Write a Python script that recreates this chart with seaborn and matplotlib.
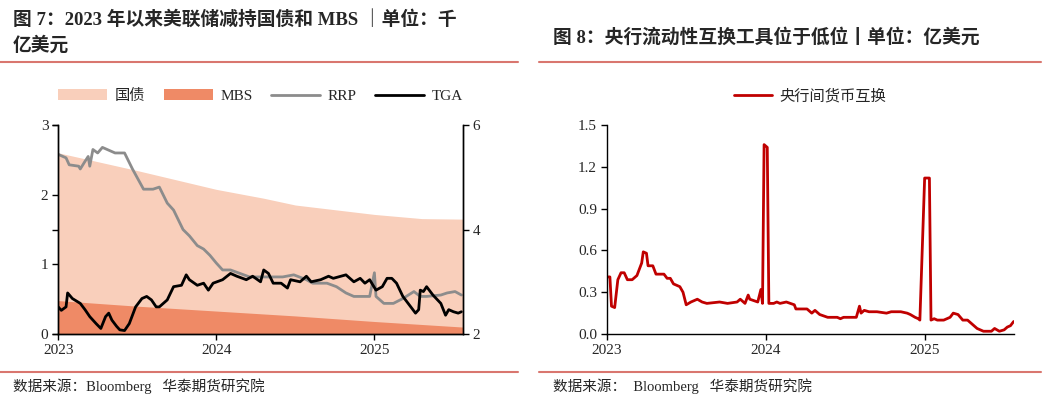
import matplotlib
matplotlib.use("Agg")
import matplotlib.pyplot as plt
import seaborn as sns
import numpy as np
import pandas as pd

sns.set_theme(style="white")
FONT = ['Liberation Serif', 'Noto Sans CJK SC', 'DejaVu Sans']
plt.rcParams['font.family'] = FONT

# Left chart (years since 2023)
tsy_x = [0, 0.5, 1.0, 1.3, 1.5, 2.0, 2.3, 2.56]
tsy_y = [5.47, 5.13, 4.77, 4.60, 4.47, 4.29, 4.21, 4.20]   # right axis units
mbs_x = [0, 0.5, 1.0, 1.5, 2.0, 2.56]
mbs_y = [0.48, 0.40, 0.33, 0.26, 0.18, 0.10]
rrp_x = [0,.05,.07,.13,.14,.17,.19,.20,.22,.25,.28,.33,.36,.42,.47,.54,.60,.64,.69,.73,.79,.83,.88,.92,.96,1.00,1.04,1.09,1.15,1.21,1.32,1.42,1.49,1.57,1.61,1.70,1.76,1.82,1.87,1.93,1.97,2.00,2.01,2.06,2.12,2.18,2.25,2.29,2.33,2.42,2.46,2.51,2.55]
rrp_y = [2.58,2.53,2.43,2.41,2.37,2.48,2.55,2.41,2.65,2.60,2.68,2.63,2.60,2.60,2.37,2.08,2.08,2.11,1.88,1.78,1.50,1.41,1.27,1.22,1.13,1.02,.92,.92,.87,.82,.82,.82,.85,.78,.73,.73,.68,.59,.54,.54,.54,.88,.54,.44,.44,.51,.61,.54,.54,.56,.59,.61,.56]
tga_x = [0,.02,.05,.06,.09,.14,.17,.20,.24,.27,.30,.32,.34,.37,.39,.42,.45,.49,.53,.56,.59,.62,.64,.69,.73,.78,.81,.83,.88,.92,.95,.98,1.04,1.09,1.13,1.19,1.23,1.28,1.30,1.33,1.36,1.41,1.45,1.47,1.53,1.57,1.60,1.66,1.71,1.74,1.82,1.87,1.91,1.94,1.97,2.01,2.05,2.08,2.11,2.14,2.18,2.23,2.26,2.28,2.29,2.31,2.33,2.37,2.42,2.45,2.47,2.50,2.53,2.55]
tga_y = [.39,.34,.39,.59,.51,.44,.35,.25,.15,.08,.25,.30,.20,.11,.06,.05,.15,.39,.51,.54,.49,.39,.39,.49,.68,.70,.85,.78,.70,.73,.63,.73,.78,.87,.83,.78,.83,.75,.92,.87,.73,.73,.66,.78,.75,.83,.75,.78,.83,.80,.85,.75,.80,.73,.78,.63,.68,.80,.80,.73,.54,.39,.30,.35,.63,.61,.68,.56,.44,.27,.35,.32,.30,.32]

# Right chart
swap_x = [0,.02,.03,.05,.07,.09,.11,.13,.16,.19,.22,.23,.25,.26,.29,.31,.36,.38,.40,.42,.44,.46,.48,.50,.53,.57,.60,.63,.71,.76,.82,.84,.87,.89,.90,.95,.97,.98,.99,1.01,1.02,1.05,1.07,1.09,1.13,1.18,1.19,1.22,1.26,1.29,1.31,1.34,1.39,1.45,1.47,1.49,1.53,1.57,1.59,1.60,1.62,1.65,1.70,1.76,1.79,1.85,1.89,1.91,1.94,1.96,1.97,2.00,2.03,2.04,2.06,2.08,2.12,2.14,2.16,2.18,2.21,2.24,2.27,2.29,2.33,2.37,2.42,2.44,2.47,2.50,2.52,2.54,2.56]
swap_y = [.41,.41,.20,.19,.39,.44,.44,.39,.39,.42,.51,.59,.58,.49,.49,.43,.43,.40,.40,.36,.35,.34,.30,.21,.23,.25,.23,.22,.23,.22,.23,.25,.22,.28,.25,.23,.32,.22,1.36,1.34,.22,.22,.23,.22,.23,.21,.18,.18,.18,.15,.17,.14,.12,.12,.11,.12,.12,.12,.20,.15,.17,.16,.16,.15,.16,.16,.15,.14,.12,.11,.10,1.12,1.12,.10,.11,.10,.10,.11,.12,.15,.14,.10,.10,.08,.04,.02,.02,.04,.02,.03,.05,.06,.09]

years = ['2023', '2024', '2025']
tsy_left = [(v - 2) * 3 / 4 for v in tsy_y]

fig = plt.figure(figsize=(10.57, 4.01), dpi=100)
tcol = '#d9766f'
title_kw = dict(fontsize=13.5, fontweight='bold', family=FONT, va='top')
fig.text(0.012, 0.975, '图 7：2023 年以来美联储减持国债和 MBS ｜单位：千\n亿美元', linespacing=1.5, **title_kw)
fig.text(0.523, 0.93, '图 8：央行流动性互换工具位于低位丨单位：亿美元', **title_kw)
for x0, x1 in [(0.0, 0.49), (0.51, 0.985)]:
    fig.add_artist(plt.Line2D([x0, x1], [0.845, 0.845], color=tcol, lw=1.5))
    fig.add_artist(plt.Line2D([x0, x1], [0.072, 0.072], color=tcol, lw=1.5))
fig.text(0.012, 0.038, '数据来源：Bloomberg   华泰期货研究院', fontsize=10.5, va='center')
fig.text(0.523, 0.038, '数据来源：  Bloomberg   华泰期货研究院', fontsize=10.5, va='center')

ax = fig.add_axes([0.055, 0.167, 0.383, 0.521])
ax.fill_between(tsy_x, 0, tsy_left, color='#f9cfbb', lw=0, label='国债')
ax.fill_between(mbs_x, 0, mbs_y, color='#ef8a66', lw=0, label='MBS')
sns.lineplot(x=rrp_x, y=rrp_y, ax=ax, color='#8c8c8c', lw=2, label='RRP')
sns.lineplot(x=tga_x, y=tga_y, ax=ax, color='black', lw=2, label='TGA')
ax.set_xlim(0, 2.56); ax.set_ylim(0, 3)
ax.set_yticks([0, 1, 2, 3])
ax.set_xticks([0, 1, 2]); ax.set_xticklabels(years)
ax2 = ax.twinx()
ax2.set_ylim(2, 6); ax2.set_yticks([2, 4, 6])
for a in (ax, ax2):
    for s in ['top']:
        a.spines[s].set_visible(False)
    for s in ['left', 'right', 'bottom']:
        a.spines[s].set_color('black'); a.spines[s].set_linewidth(1)
    a.tick_params(direction='out', length=4, width=1, color='black', labelsize=11, pad=3)
    a.tick_params(left=True, bottom=True, right=(a is ax2))
ax.legend(loc='lower center', bbox_to_anchor=(0.5, 1.04), ncol=4, frameon=False,
          fontsize=11, handlelength=3.2, columnspacing=1.2, handletextpad=0.5)

bx = fig.add_axes([0.574, 0.167, 0.385, 0.521])
sns.lineplot(x=swap_x, y=swap_y, ax=bx, color='#c00000', lw=2, label='央行间货币互换')
bx.set_xlim(0, 2.56); bx.set_ylim(0, 1.5)
bx.set_yticks([0, 0.3, 0.6, 0.9, 1.2, 1.5])
bx.set_yticklabels([f'{v:.1f}' for v in [0, 0.3, 0.6, 0.9, 1.2, 1.5]])
bx.set_xticks([0, 1, 2]); bx.set_xticklabels(years)
for s in ['top', 'right']:
    bx.spines[s].set_visible(False)
for s in ['left', 'bottom']:
    bx.spines[s].set_color('black'); bx.spines[s].set_linewidth(1)
bx.tick_params(direction='out', length=4, width=1, color='black', labelsize=11, pad=3, left=True, bottom=True)
bx.legend(loc='lower center', bbox_to_anchor=(0.5, 1.04), frameon=False, fontsize=11, handlelength=2.5, handletextpad=0.5)
ax.set_xlabel(''); bx.set_xlabel('')
fig.savefig('out.png', dpi=100)
